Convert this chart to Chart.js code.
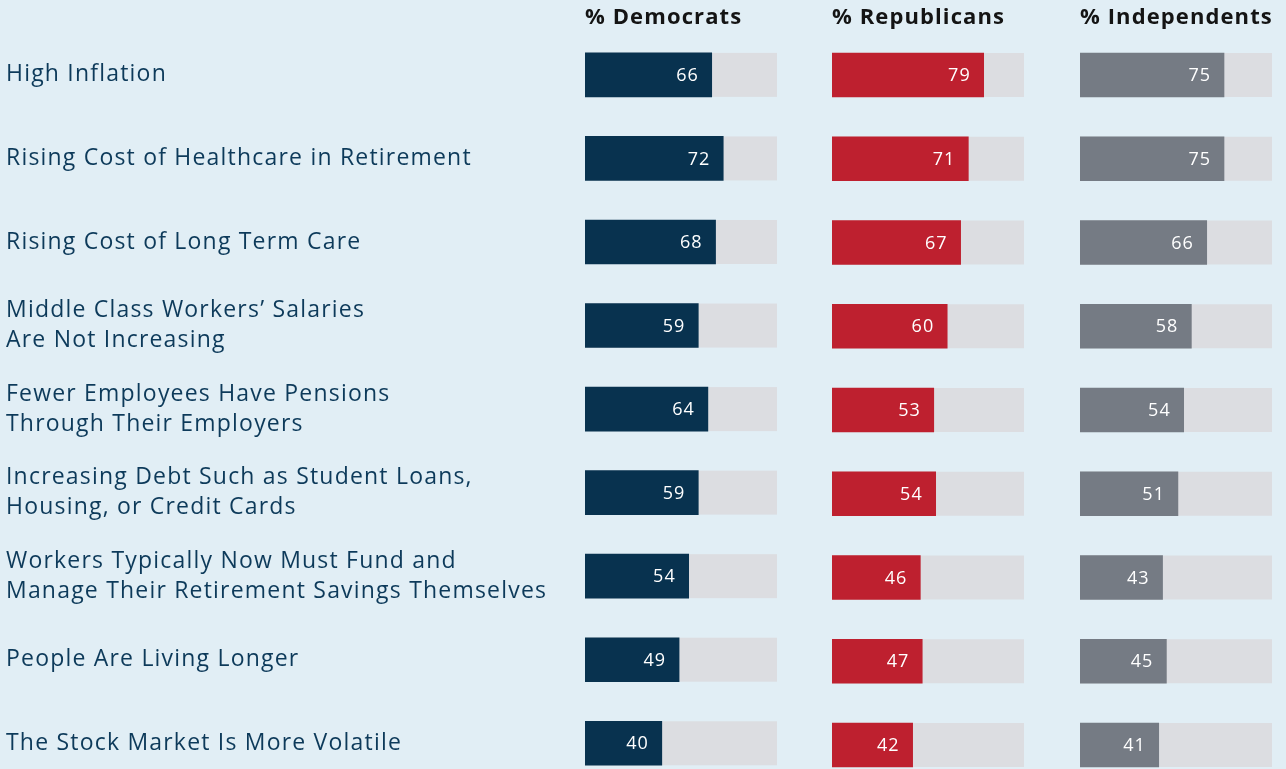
<!DOCTYPE html>
<html>
<head>
<meta charset="utf-8">
<script src="https://cdn.jsdelivr.net/npm/chart.js@4.4.1/dist/chart.umd.min.js"></script>
<style>
  html, body { margin: 0; padding: 0; background: #e1eef5; overflow: hidden; width: 1286px; height: 769px; }
  .box { position: absolute; top: 0; height: 800px; }
</style>
</head>
<body>
<div class="box" id="b1" style="left:0;width:777px"><canvas id="c1"></canvas></div>
<div class="box" id="b2" style="left:832px;width:206px"><canvas id="c2"></canvas></div>
<div class="box" id="b3" style="left:1080px;width:206px"><canvas id="c3"></canvas></div>
<script>
const categories = [
  ["High Inflation"],
  ["Rising Cost of Healthcare in Retirement"],
  ["Rising Cost of Long Term Care"],
  ["Middle Class Workers\u2019 Salaries", "Are Not Increasing"],
  ["Fewer Employees Have Pensions", "Through Their Employers"],
  ["Increasing Debt Such as Student Loans,", "Housing, or Credit Cards"],
  ["Workers Typically Now Must Fund and", "Manage Their Retirement Savings Themselves"],
  ["People Are Living Longer"],
  ["The Stock Market Is More Volatile"]
];
const groupTitles = ["% Democrats", "% Republicans", "% Independents"];
const democrats   = [66, 72, 68, 59, 64, 59, 54, 49, 40];
const republicans = [79, 71, 67, 60, 53, 54, 46, 47, 42];
const independents = [75, 75, 66, 58, 54, 51, 43, 45, 41];
const barColors = ["#08324f", "#be202f", "#757b84"];
const trackColor = "#dcdde1";

const FONT = "'Open Sans', 'DejaVu Sans', sans-serif";

const panelPlugin = {
  id: 'panel',
  beforeDraw(chart) {
    chart.ctx.letterSpacing = '1.2px';
  },
  beforeDatasetsDraw(chart, args, opts) {
    const ctx = chart.ctx;
    const meta = chart.getDatasetMeta(0);
    const xs = chart.scales.x;
    const x0 = xs.getPixelForValue(0), x1 = xs.getPixelForValue(100);
    ctx.save();
    ctx.fillStyle = trackColor;
    meta.data.forEach(b => {
      ctx.fillRect(x0, b.y - b.height / 2, x1 - x0, b.height);
    });
    ctx.restore();
  },
  afterDatasetsDraw(chart, args, opts) {
    const ctx = chart.ctx;
    const meta = chart.getDatasetMeta(0);
    const data = chart.data.datasets[0].data;
    ctx.save();
    ctx.fillStyle = '#ffffff';
    ctx.font = "18px " + FONT;
    ctx.letterSpacing = '1px';
    ctx.textAlign = 'right';
    ctx.textBaseline = 'middle';
    meta.data.forEach((b, i) => {
      ctx.fillText(String(data[i]), b.x - 13, b.y + 1);
    });
    ctx.fillStyle = '#141414';
    ctx.font = "bold 22px " + FONT;
    ctx.letterSpacing = '1.1px';
    ctx.textAlign = 'left';
    ctx.fillText(opts.title, chart.chartArea.left, 18);
    ctx.restore();
  }
};

function makeChart(id, values, color, title, showLabels, padRight) {
  return new Chart(document.getElementById(id), {
    type: 'bar',
    data: {
      labels: categories,
      datasets: [{ data: values, backgroundColor: color, barThickness: 44, borderWidth: 0 }]
    },
    options: {
      indexAxis: 'y',
      responsive: true,
      maintainAspectRatio: false,
      animation: false,
      layout: { padding: { top: 33.125, bottom: 13.125, left: showLabels ? 6 : 0, right: padRight } },
      plugins: { legend: { display: false }, tooltip: { enabled: false }, panel: { title: title } },
      scales: {
        x: { min: 0, max: 100, display: false },
        y: {
          display: showLabels,
          grid: { display: false, drawTicks: false },
          border: { display: false },
          afterFit: (s) => { if (showLabels) s.width = 579; },
          ticks: {
            autoSkip: false,
            crossAlign: 'far',
            padding: 0,
            color: '#0d3a5a',
            font: { family: FONT, size: 23, lineHeight: 1.3 }
          }
        }
      }
    },
    plugins: [panelPlugin]
  });
}

makeChart('c1', democrats, barColors[0], groupTitles[0], true, 0);
makeChart('c2', republicans, barColors[1], groupTitles[1], false, 14);
makeChart('c3', independents, barColors[2], groupTitles[2], false, 14);
</script>
</body>
</html>
